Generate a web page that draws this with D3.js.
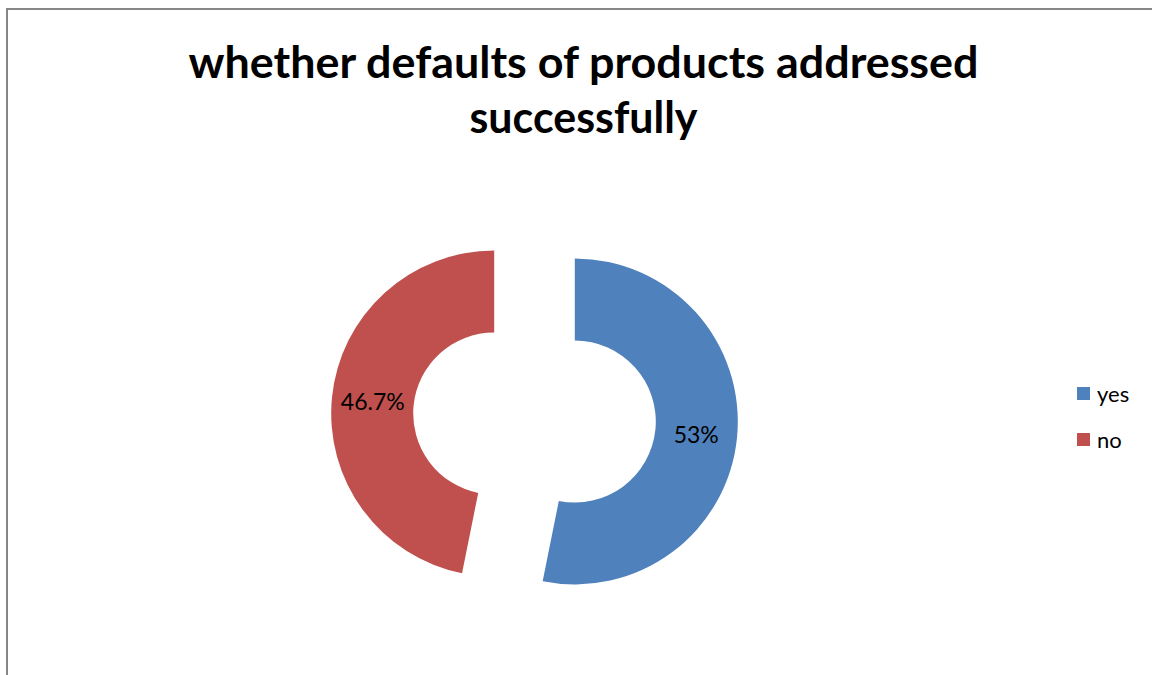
<!DOCTYPE html>
<html>
<head>
<meta charset="utf-8">
<script src="https://cdn.jsdelivr.net/npm/d3@7"></script>
<style>
  html, body { margin: 0; padding: 0; background: #fff; }
  svg { display: block; }
</style>
</head>
<body>
<svg id="chart" width="1152" height="675"></svg>
<script>
// Survey answers and their shares (percent)
const categories = ["yes", "no"];
const values = [53, 46.7];
const valueLabels = ["53%", "46.7%"];
const colors = ["#4F81BD", "#C0504D"];
const titleLines = ["whether defaults of products addressed", "successfully"];

const svg = d3.select("#chart");

// Chart frame
svg.append("rect")
  .attr("x", 7).attr("y", 9)
  .attr("width", 1160).attr("height", 690)
  .attr("fill", "#fff")
  .attr("stroke", "#868686")
  .attr("stroke-width", 2);

// Title
const title = svg.append("g")
  .attr("font-family", "Lato, 'Open Sans', sans-serif")
  .attr("font-weight", "bold")
  .attr("font-size", 44)
  .attr("fill", "#000")
  .attr("text-anchor", "middle");
const titleY = [78, 133];
const titleW = [790, 228];
titleLines.forEach((t, i) => {
  title.append("text")
    .attr("x", 583.5).attr("y", titleY[i])
    .attr("textLength", titleW[i])
    .attr("lengthAdjust", "spacingAndGlyphs")
    .text(t);
});

// Exploded doughnut
const cx = 534.5, cy = 417.5;
const outerR = 163, innerR = 81, explode = 40.5;

const pie = d3.pie().sort(null).value(d => d.value)
  .startAngle(0).endAngle(2 * Math.PI);
const arc = d3.arc().innerRadius(innerR).outerRadius(outerR);

const data = categories.map((c, i) => ({ name: c, value: values[i], label: valueLabels[i], color: colors[i] }));
const arcs = pie(data);

const offset = a => {
  const mid = (a.startAngle + a.endAngle) / 2;
  return [explode * Math.sin(mid), -explode * Math.cos(mid)];
};

const slices = svg.append("g").attr("transform", `translate(${cx},${cy})`);

const sliceG = slices.selectAll("g.slice")
  .data(arcs)
  .join("g")
  .attr("class", "slice")
  .attr("transform", d => { const [dx, dy] = offset(d); return `translate(${dx},${dy})`; });

sliceG.append("path")
  .attr("d", arc)
  .attr("fill", d => d.data.color);

sliceG.append("text")
  .attr("transform", d => { const [x, y] = arc.centroid(d); return `translate(${x},${y})`; })
  .attr("text-anchor", "middle")
  .attr("dominant-baseline", "central")
  .attr("font-family", "Lato, 'Open Sans', sans-serif")
  .attr("font-size", 23)
  .attr("fill", "#000")
  .text(d => d.data.label);

// Legend
const legend = svg.append("g")
  .attr("font-family", "Lato, 'Open Sans', sans-serif")
  .attr("font-size", 22)
  .attr("fill", "#000");

const legendY = d3.scalePoint().domain(categories).range([402, 448]);

const item = legend.selectAll("g.item")
  .data(data)
  .join("g")
  .attr("class", "item")
  .attr("transform", d => `translate(0,${legendY(d.name)})`);

item.append("rect")
  .attr("x", 1077).attr("y", -15)
  .attr("width", 13).attr("height", 13)
  .attr("fill", d => d.color);

item.append("text")
  .attr("x", 1097).attr("y", 0)
  .text(d => d.name);
</script>
</body>
</html>
